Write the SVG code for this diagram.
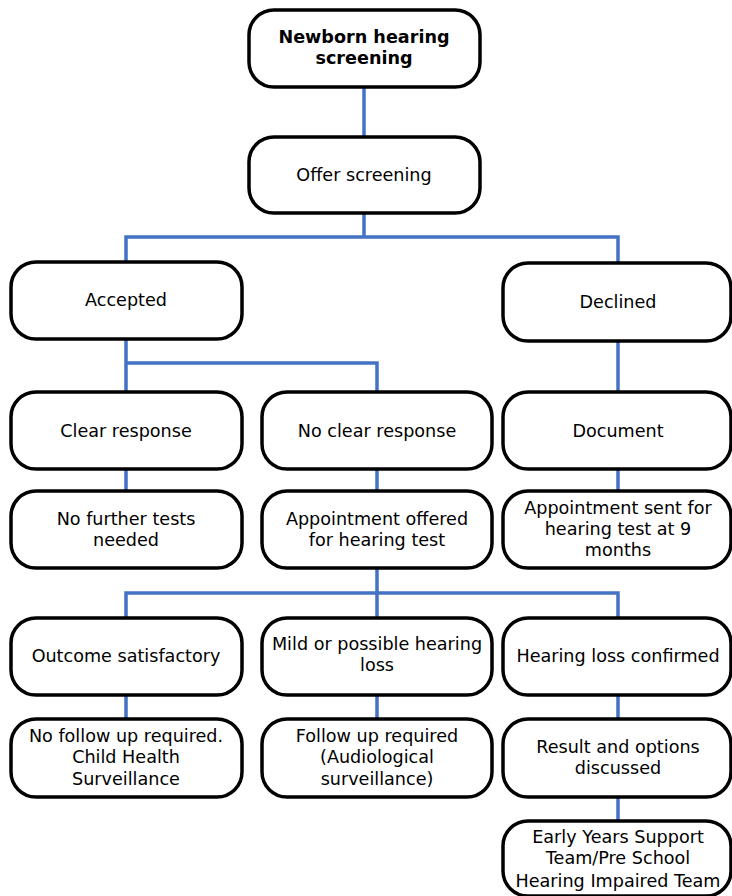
<svg xmlns="http://www.w3.org/2000/svg" width="732" height="896" viewBox="0 0 732 896">
<style>
.box{fill:#ffffff;stroke:#000000;stroke-width:3.5}
.t{font-family:"DejaVu Sans","Verdana",sans-serif;font-size:17.6px;fill:#000000;text-anchor:middle}
.b{font-weight:bold}
.c{fill:none;stroke:#4472c4;stroke-width:3.5}
</style>
<rect width="732" height="896" fill="#ffffff"/>
<g id="connectors">
<path class="c" d="M364,87V137"/>
<path class="c" d="M364,213V237M126,262V237H618V263"/>
<path class="c" d="M126,339V392M126,363H377V392"/>
<path class="c" d="M618,341V392"/>
<path class="c" d="M126,469V491M377,469V491M618,469V491"/>
<path class="c" d="M377,568V618M126,618V593H618V618"/>
<path class="c" d="M126,695V719M377,695V719M618,695V719"/>
<path class="c" d="M618,797V821"/>
</g>
<g id="n-newborn"><rect class="box" x="249" y="10" width="231" height="77" rx="25"/><text class="t b" x="364" y="43">Newborn hearing</text><text class="t b" x="364" y="64">screening</text></g>
<g id="n-offer"><rect class="box" x="249" y="137" width="231" height="76" rx="25"/><text class="t" x="364" y="181">Offer screening</text></g>
<g id="n-accepted"><rect class="box" x="11" y="262" width="231" height="77" rx="25"/><text class="t" x="126" y="306">Accepted</text></g>
<g id="n-declined"><rect class="box" x="503" y="263" width="228" height="78" rx="25"/><text class="t" x="618" y="308">Declined</text></g>
<g id="n-clear"><rect class="box" x="11" y="392" width="231" height="77" rx="25"/><text class="t" x="126" y="437">Clear response</text></g>
<g id="n-noclear"><rect class="box" x="262" y="392" width="230" height="77" rx="25"/><text class="t" x="377" y="437">No clear response</text></g>
<g id="n-document"><rect class="box" x="503" y="392" width="228" height="77" rx="25"/><text class="t" x="618" y="437">Document</text></g>
<g id="n-nofurther"><rect class="box" x="11" y="491" width="231" height="77" rx="25"/><text class="t" x="126" y="525">No further tests</text><text class="t" x="126" y="546">needed</text></g>
<g id="n-apptoffered"><rect class="box" x="262" y="491" width="230" height="77" rx="25"/><text class="t" x="377" y="525">Appointment offered</text><text class="t" x="377" y="546">for hearing test</text></g>
<g id="n-apptsent"><rect class="box" x="503" y="491" width="228" height="77" rx="25"/><text class="t" x="618" y="514">Appointment sent for</text><text class="t" x="618" y="535">hearing test at 9</text><text class="t" x="618" y="556">months</text></g>
<g id="n-outcome"><rect class="box" x="11" y="618" width="231" height="77" rx="25"/><text class="t" x="126" y="662">Outcome satisfactory</text></g>
<g id="n-mild"><rect class="box" x="262" y="618" width="230" height="77" rx="25"/><text class="t" x="377" y="650">Mild or possible hearing</text><text class="t" x="377" y="671">loss</text></g>
<g id="n-confirmed"><rect class="box" x="503" y="618" width="228" height="77" rx="25"/><text class="t" x="618" y="662">Hearing loss confirmed</text></g>
<g id="n-nofollow"><rect class="box" x="11" y="719" width="231" height="78" rx="25"/><text class="t" x="126" y="742">No follow up required.</text><text class="t" x="126" y="763">Child Health</text><text class="t" x="126" y="785">Surveillance</text></g>
<g id="n-followup"><rect class="box" x="262" y="719" width="230" height="78" rx="25"/><text class="t" x="377" y="742">Follow up required</text><text class="t" x="377" y="763">(Audiological</text><text class="t" x="377" y="785">surveillance)</text></g>
<g id="n-result"><rect class="box" x="503" y="719" width="228" height="78" rx="25"/><text class="t" x="618" y="753">Result and options</text><text class="t" x="618" y="774">discussed</text></g>
<g id="n-earlyyears"><rect class="box" x="503" y="821" width="228" height="75" rx="25"/><text class="t" x="618" y="843">Early Years Support</text><text class="t" x="618" y="864">Team/Pre School</text><text class="t" x="618" y="887">Hearing Impaired Team</text></g>
</svg>
